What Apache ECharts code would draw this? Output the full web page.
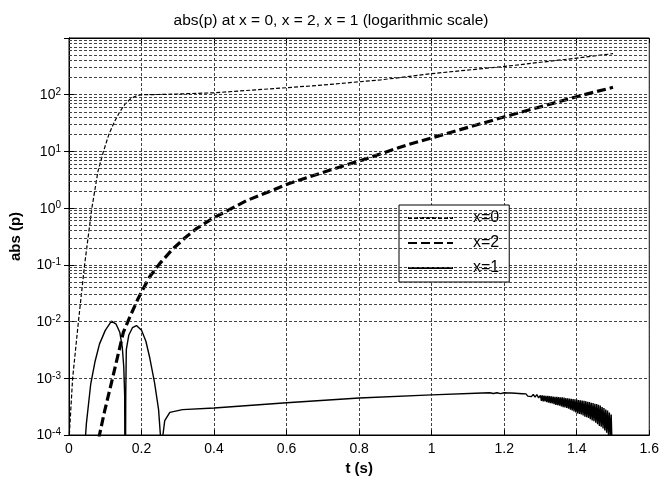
<!DOCTYPE html>
<html>
<head>
<meta charset="utf-8">
<script src="https://cdn.jsdelivr.net/npm/echarts@6/dist/echarts.min.js"></script>
<style>
html,body{margin:0;padding:0;background:#fff;}
#c{width:662px;height:484px;}
</style>
</head>
<body>
<div id="c"></div>
<script>
// ---- data ----
var titleText = 'abs(p) at x = 0, x = 2, x = 1 (logarithmic scale)';
var xTicks = [0, 0.2, 0.4, 0.6, 0.8, 1, 1.2, 1.4, 1.6];
var yDecades = [1e-4, 1e-3, 1e-2, 1e-1, 1e0, 1e1, 1e2, 1e3];
var seriesNames = ['x=0', 'x=2', 'x=1'];

var x0T = [0, 0.01, 0.026, 0.043, 0.063, 0.08, 0.095, 0.11, 0.125, 0.14, 0.155, 0.17, 0.185, 0.2, 0.25, 0.3, 0.4, 0.5, 0.6, 0.7, 0.86, 1.0, 1.21, 1.41, 1.5];
var x0V = [8e-5, 1e-3, 1e-2, 0.1, 1, 4.5, 10, 20, 33, 50, 69, 85, 95, 100, 101, 103, 108, 120, 133, 148, 183, 235, 320, 450, 530];

var x2T = [0.075, 0.084, 0.098, 0.12, 0.15, 0.17, 0.19, 0.222, 0.25, 0.286, 0.32, 0.35, 0.396, 0.49, 0.609, 0.72, 0.81, 0.93, 1.0, 1.208, 1.41, 1.5];
var x2V = [3e-5, 1e-4, 2.6e-4, 1e-3, 6.5e-3, 0.013, 0.025, 0.061, 0.105, 0.19, 0.30, 0.43, 0.66, 1.36, 2.75, 4.7, 7.1, 12.9, 17.3, 42, 96, 135];

// x=1: two humps, then a slow rise and a noisy band that widens toward t = 1.5
var x1T = [0.04, 0.048, 0.06, 0.072, 0.084, 0.1, 0.117, 0.13, 0.14, 0.147, 0.151, 0.1535, 0.155, 0.1565, 0.158, 0.165, 0.175, 0.186, 0.2, 0.212, 0.222, 0.236, 0.247, 0.252, 0.256, 0.259, 0.264, 0.278, 0.313, 0.4, 0.6, 0.8, 1.0, 1.14, 1.16, 1.17, 1.18, 1.19,
  1.200, 1.205, 1.210, 1.215, 1.220, 1.225, 1.230, 1.235, 1.240, 1.245, 1.250, 1.255, 1.260, 1.265, 1.270, 1.275, 1.280, 1.285, 1.290, 1.295,
  1.3000, 1.3025, 1.3050, 1.3075, 1.3100, 1.3125, 1.3150, 1.3175, 1.3200, 1.3225, 1.3250, 1.3275, 1.3300, 1.3325, 1.3350, 1.3375,
  1.3400, 1.3425, 1.3450, 1.3475, 1.3500, 1.3525, 1.3550, 1.3575, 1.3600, 1.3625, 1.3650, 1.3675, 1.3700, 1.3725, 1.3750, 1.3775,
  1.3800, 1.3825, 1.3850, 1.3875, 1.3900, 1.3925, 1.3950, 1.3975, 1.4000, 1.4025, 1.4050, 1.4075, 1.4100, 1.4125, 1.4150, 1.4175,
  1.4200, 1.4225, 1.4250, 1.4275, 1.4300, 1.4325, 1.4350, 1.4375, 1.4400, 1.4425, 1.4450, 1.4475, 1.4500, 1.4525, 1.4550, 1.4575,
  1.4600, 1.4625, 1.4650, 1.4675, 1.4700, 1.4725, 1.4750, 1.4775, 1.4800, 1.4825, 1.4850, 1.4875, 1.4900, 1.4925, 1.4950, 1.4975, 1.5000];
var x1V = [3e-5, 1.6e-4, 8e-4, 2e-3, 4e-3, 7e-3, 0.0102, 9e-3, 6.5e-3, 3.5e-3, 1.6e-3, 5e-4, 1e-6, 5e-4, 3.2e-3, 5.8e-3, 7.8e-3, 8.5e-3, 7e-3, 4.5e-3, 2.4e-3, 8.3e-4, 2.8e-4, 1e-4, 1e-6, 1e-4, 1.8e-4, 2.5e-4, 2.8e-4, 3.0e-4, 3.7e-4, 4.5e-4, 5.1e-4, 5.5e-4, 5.55e-4, 5.4e-4, 5.55e-4, 5.35e-4,
  5.55e-4, 5.25e-4, 5.5e-4, 5.2e-4, 5.5e-4, 5.15e-4, 5.45e-4, 5.1e-4, 5.4e-4, 5.0e-4, 5.35e-4, 4.95e-4, 5.3e-4, 4.85e-4, 5.25e-4, 4.75e-4, 5.2e-4, 4.65e-4, 5.15e-4, 4.5e-4,
  5.0e-4, 4.0e-4, 5.0e-4, 3.9e-4, 4.95e-4, 3.9e-4, 4.9e-4, 3.8e-4, 4.9e-4, 3.7e-4, 4.85e-4, 3.65e-4, 4.8e-4, 3.6e-4, 4.75e-4, 3.5e-4,
  4.7e-4, 3.4e-4, 4.7e-4, 3.35e-4, 4.65e-4, 3.3e-4, 4.6e-4, 3.2e-4, 4.6e-4, 3.1e-4, 4.55e-4, 3.05e-4, 4.5e-4, 3.0e-4, 4.45e-4, 2.9e-4,
  4.4e-4, 2.8e-4, 4.35e-4, 2.7e-4, 4.3e-4, 2.6e-4, 4.25e-4, 2.5e-4, 4.2e-4, 2.4e-4, 4.15e-4, 2.35e-4, 4.1e-4, 2.3e-4, 4.05e-4, 2.2e-4,
  4.0e-4, 2.1e-4, 3.95e-4, 2.05e-4, 3.85e-4, 2.0e-4, 3.8e-4, 1.9e-4, 3.7e-4, 1.8e-4, 3.65e-4, 1.75e-4, 3.55e-4, 1.65e-4, 3.5e-4, 1.55e-4,
  3.4e-4, 1.45e-4, 3.3e-4, 1.4e-4, 3.1e-4, 1.3e-4, 3.0e-4, 1.2e-4, 2.8e-4, 1.1e-4, 2.7e-4, 1.0e-4, 2.5e-4, 9e-5, 2.3e-4, 6e-5, 1e-5];

// minor log grid values (2..9 x 10^k)
var minorMultipliers = [2, 3, 4, 5, 6, 7, 8, 9];

function pairs(t, v) { return t.map(function (x, i) { return [x, v[i]]; }); }
var minorVals = [];
for (var k = 0; k < yDecades.length - 1; k++) {
  minorMultipliers.forEach(function (m) { minorVals.push({ yAxis: m * yDecades[k] }); });
}

var gridLine = { type: [3, 2], color: '#444', width: 1 };
var font = 'Arial, "Liberation Sans", sans-serif';

var chart = echarts.init(document.getElementById('c'), null, { renderer: 'canvas' });
chart.setOption({
  animation: false,
  backgroundColor: '#fff',
  textStyle: { fontFamily: font },
  title: {
    text: titleText,
    left: 'center',
    top: 8,
    textStyle: { fontFamily: font, fontSize: 15.5, fontWeight: 'normal', color: '#000' }
  },
  grid: { left: 68, right: 11, top: 38, bottom: 49, show: true, borderColor: '#000', borderWidth: 1 },
  legend: {
    data: seriesNames,
    orient: 'vertical',
    left: 399,
    top: 205,
    padding: [5, 10, 6, 8],
    itemWidth: 45,
    itemHeight: 14,
    itemGap: 9,
    backgroundColor: '#fff',
    borderColor: '#000',
    borderWidth: 1,
    borderRadius: 0,
    itemStyle: { opacity: 0 },
    textStyle: { fontFamily: font, fontSize: 16, color: '#000', padding: [0, 0, 0, 15] }
  },
  xAxis: [{
    type: 'value', min: 0, max: 1.6, interval: 0.2,
    name: 't (s)', nameLocation: 'middle', nameGap: 25,
    nameTextStyle: { fontFamily: font, fontSize: 15, fontWeight: 'bold', color: '#000' },
    axisLine: { show: true, lineStyle: { color: '#000' } },
    axisTick: { show: true, inside: true, length: 5, lineStyle: { color: '#000' } },
    axisLabel: { color: '#000', fontSize: 14, margin: 7, fontFamily: font,
      formatter: function (v) { return String(+v.toFixed(1)); } },
    splitLine: { show: true, lineStyle: gridLine }
  }, {
    type: 'value', min: 0, max: 1.6, interval: 0.2, position: 'top',
    axisLine: { show: true, lineStyle: { color: '#000' } },
    axisTick: { show: true, inside: true, length: 5, lineStyle: { color: '#000' } },
    axisLabel: { show: false }, splitLine: { show: false }
  }],
  yAxis: [{
    type: 'log', logBase: 10, min: 1e-4, max: 1e3, splitNumber: 7,
    name: 'abs (p)', nameLocation: 'middle', nameGap: 46,
    nameTextStyle: { fontFamily: font, fontSize: 15, fontWeight: 'bold', color: '#000' },
    axisLine: { show: true, lineStyle: { color: '#000' } },
    axisTick: { show: true, inside: true, length: 5, lineStyle: { color: '#000' } },
    axisLabel: {
      margin: 8,
      formatter: function (v) {
        var e = Math.round(Math.log10(v));
        if (e >= 3) return '';
        return '{b|10}{s|' + e + '}';
      },
      rich: {
        b: { fontSize: 14, color: '#000', fontFamily: font, verticalAlign: 'bottom', lineHeight: 15 },
        s: { fontSize: 10, color: '#000', fontFamily: font, verticalAlign: 'top', lineHeight: 15, padding: [0, 0, 8, 0] }
      }
    },
    splitLine: { show: true, lineStyle: gridLine }
  }, {
    type: 'log', logBase: 10, min: 1e-4, max: 1e3, splitNumber: 7, position: 'right',
    axisLine: { show: true, lineStyle: { color: '#000' } },
    axisTick: { show: true, inside: true, length: 5, lineStyle: { color: '#000' } },
    axisLabel: { show: false }, splitLine: { show: false }
  }],
  series: [{
    type: 'line', data: [], silent: true, z: 1,
    markLine: {
      silent: true, symbol: ['none', 'none'], label: { show: false },
      lineStyle: gridLine, emphasis: { disabled: true },
      data: minorVals
    }
  }, {
    name: 'x=0', type: 'line', data: pairs(x0T, x0V), showSymbol: false, symbol: 'none', z: 3,
    lineStyle: { color: '#000', width: 1.2, type: [4, 2] }, itemStyle: { color: '#000' }
  }, {
    name: 'x=2', type: 'line', data: pairs(x2T, x2V), showSymbol: false, symbol: 'none', z: 3,
    lineStyle: { color: '#000', width: 3.2, type: [9, 4] }, itemStyle: { color: '#000' }
  }, {
    name: 'x=1', type: 'line', data: pairs(x1T, x1V), showSymbol: false, symbol: 'none', z: 3,
    lineStyle: { color: '#000', width: 1.4 }, itemStyle: { color: '#000' }
  }]
});
</script>
</body>
</html>
